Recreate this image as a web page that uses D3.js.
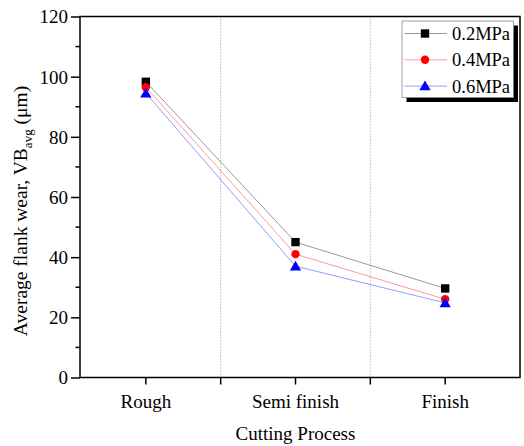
<!DOCTYPE html>
<html>
<head>
<meta charset="utf-8">
<script src="https://cdnjs.cloudflare.com/ajax/libs/d3/7.8.5/d3.min.js"></script>
<style>
  body { margin: 0; background: #fff; }
  .plot text { font-family: "Liberation Serif", "Times New Roman", serif; fill: #000; }
</style>
</head>
<body>
<div class="plot"></div>
<script>
// data
const categories = ["Rough", "Semi finish", "Finish"];
const seriesNames = ["0.2MPa", "0.4MPa", "0.6MPa"];
const wear02 = [98.3, 45.0, 29.6];
const wear04 = [96.5, 41.0, 26.0];
const wear06 = [94.5, 37.0, 24.8];
const yTicks = [0, 20, 40, 60, 80, 100, 120];
const colors = ["#000000", "#ff0000", "#0000ff"];
const symbols = [d3.symbolSquare, d3.symbolCircle, d3.symbolTriangle];

class wearChart {

constructor(values){
  let self = this
  this.values = values
  this.width = 524
  this.height = 446
  this.margin = {top: 16.5, right: 4, bottom: 68.5, left: 80}
  this.init()
}

init(){
  let self = this
  let m = self.margin
  self.svg = d3.select(".plot").append("svg")
      .attr("width", self.width)
      .attr("height", self.height)
  // x is a linear index scale so the category ticks and boundaries line up like Origin does
  self.x = d3.scaleLinear().domain([0.56, 3.5]).range([m.left, self.width - m.right])
  self.y = d3.scaleLinear().domain([0, 120]).range([self.height - m.bottom, m.top])
  self.drawGrid()
  self.drawAxes()
  self.drawSeries()
  self.drawLegend()
}

drawGrid(){
  let self = this
  // dotted separators between categories
  self.svg.selectAll(".sep")
      .data([1.5, 2.5])
      .enter().append("line")
      .attr("class", "sep")
      .attr("x1", d => self.x(d)).attr("x2", d => self.x(d))
      .attr("y1", self.y(0)).attr("y2", self.y(120))
      .attr("stroke", "#777")
      .attr("stroke-width", 0.8)
      .attr("stroke-dasharray", "1,2")
}

drawAxes(){
  let self = this
  let x0 = self.x.range()[0], x1 = self.x.range()[1]
  let y0 = self.y.range()[0], y1 = self.y.range()[1]

  let yAxis = d3.axisLeft(self.y).tickValues(yTicks).tickSize(9).tickPadding(3).tickFormat(d3.format("d"))
  let gy = self.svg.append("g")
      .attr("transform", "translate(" + x0 + ",0)")
      .call(yAxis)
      .attr("font-family", null)
      .attr("font-size", null)
  gy.select(".domain").remove()
  gy.selectAll("line").attr("stroke-width", 1.5)
  gy.selectAll("text").style("font-size", "19px").attr("dy", "0.34em")

  // minor ticks
  self.svg.selectAll(".ymin")
      .data(d3.range(10, 120, 20))
      .enter().append("line")
      .attr("x1", x0 - 4.5).attr("x2", x0)
      .attr("y1", d => self.y(d)).attr("y2", d => self.y(d))
      .attr("stroke", "#000").attr("stroke-width", 1.5)

  // bottom ticks: categories + separators
  self.svg.selectAll(".xt")
      .data([1, 1.5, 2, 2.5, 3])
      .enter().append("line")
      .attr("x1", d => self.x(d)).attr("x2", d => self.x(d))
      .attr("y1", y0).attr("y2", y0 + 7)
      .attr("stroke", "#000").attr("stroke-width", 1.5)

  self.svg.selectAll(".xl")
      .data(categories)
      .enter().append("text")
      .attr("x", (d, i) => self.x(i + 1))
      .attr("y", y0 + 30)
      .attr("text-anchor", "middle")
      .style("font-size", "19px")
      .text(d => d)

  // frame
  self.svg.append("rect")
      .attr("x", x0).attr("y", y1)
      .attr("width", x1 - x0).attr("height", y0 - y1)
      .attr("fill", "none")
      .attr("stroke", "#000")
      .attr("stroke-width", 1.5)

  self.svg.append("text")
      .attr("x", self.x(2))
      .attr("y", 440)
      .attr("text-anchor", "middle")
      .style("font-size", "19px")
      .text("Cutting Process")

  let yl = self.svg.append("text")
      .attr("transform", "translate(27," + 211 + ") rotate(-90)")
      .attr("text-anchor", "middle")
      .style("font-size", "19.5px")
  yl.append("tspan").text("Average flank wear, VB")
  yl.append("tspan").attr("dy", 5).style("font-size", "13px").text("avg")
  yl.append("tspan").attr("dy", -5).text(" (\u03bcm)")
}

drawSeries(){
  let self = this
  let line = d3.line()
      .x((d, i) => self.x(i + 1))
      .y(d => self.y(d))
  self.values.forEach(function(vals, s){
    self.svg.append("path")
        .datum(vals)
        .attr("d", line)
        .attr("fill", "none")
        .attr("stroke", colors[s])
        .attr("stroke-opacity", 0.5)
        .attr("stroke-width", 0.8)
  })
  self.values.forEach(function(vals, s){
    let sym = d3.symbol().type(symbols[s]).size(s == 0 ? 70 : 55)
    self.svg.selectAll(".pt" + s)
        .data(vals)
        .enter().append("path")
        .attr("d", sym)
        .attr("transform", (d, i) => "translate(" + self.x(i + 1) + "," + (self.y(d) + (s == 2 ? 1 : 0)) + ")")
        .attr("fill", colors[s])
  })
}

drawLegend(){
  let self = this
  let lx = 402, ly = 21, lw = 111.5, lh = 76.5
  let g = self.svg.append("g")
  g.append("rect")
      .attr("x", lx + 4.5).attr("y", ly + 4.5)
      .attr("width", lw).attr("height", lh)
      .attr("fill", "#000")
  g.append("rect")
      .attr("x", lx).attr("y", ly)
      .attr("width", lw).attr("height", lh)
      .attr("fill", "#fff")
      .attr("stroke", "#888")
      .attr("stroke-width", 0.8)
  let item = g.selectAll(".legend")
      .data(seriesNames)
      .enter().append("g")
      .attr("class", "legend")
      .attr("transform", (d, i) => "translate(0," + (ly + 12.5 + i * 26.3) + ")")
  item.append("line")
      .attr("x1", lx + 2.5).attr("x2", lx + 45)
      .attr("stroke", (d, i) => colors[i])
      .attr("stroke-opacity", 0.5)
      .attr("stroke-width", 0.8)
  item.append("path")
      .attr("d", (d, i) => d3.symbol().type(symbols[i]).size(i == 0 ? 70 : 55)())
      .attr("transform", (d, i) => "translate(" + (lx + 23) + "," + (i == 2 ? 1 : 0) + ")")
      .attr("fill", (d, i) => colors[i])
  item.append("text")
      .attr("x", lx + 50)
      .attr("y", 6.5)
      .style("font-size", "18.5px")
      .text(d => d)
}

}

new wearChart([wear02, wear04, wear06])
</script>
</body>
</html>
